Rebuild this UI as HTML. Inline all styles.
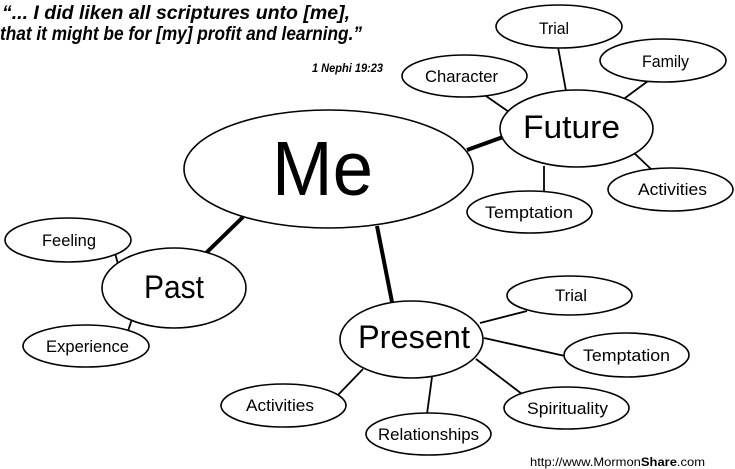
<!DOCTYPE html>
<html><head><meta charset="utf-8"><style>
html,body{margin:0;padding:0;background:#fff;}
svg{display:block;}
text{font-family:"Liberation Sans",sans-serif;fill:#000;}
</style></head><body>
<svg width="735" height="469" viewBox="0 0 735 469" xmlns="http://www.w3.org/2000/svg">
<rect width="735" height="469" fill="#fff"/>
<!-- quote -->
<text x="2" y="19" font-size="19" font-weight="bold" font-style="italic" textLength="348" lengthAdjust="spacingAndGlyphs">“... I did liken all scriptures unto [me],</text>
<text x="0" y="40" font-size="19" font-weight="bold" font-style="italic" textLength="362" lengthAdjust="spacingAndGlyphs">that it might be for [my] profit and learning.”</text>
<text x="312" y="72" font-size="12" font-weight="bold" font-style="italic" textLength="71" lengthAdjust="spacingAndGlyphs">1 Nephi 19:23</text>

<g stroke="#000" fill="none">
<!-- thick connectors -->
<line x1="467" y1="150" x2="503" y2="137" stroke-width="4"/>
<line x1="243" y1="217" x2="205" y2="254" stroke-width="4"/>
<line x1="377" y1="226" x2="392" y2="302" stroke-width="4"/>
<!-- thin connectors -->
<g stroke-width="1.8">
<line x1="558" y1="47" x2="566" y2="91"/>
<line x1="648" y1="81" x2="621" y2="101"/>
<line x1="486" y1="96" x2="509" y2="112"/>
<line x1="633" y1="152" x2="652" y2="170"/>
<line x1="544" y1="166" x2="544" y2="192"/>
<line x1="115" y1="253" x2="118" y2="264"/>
<line x1="132" y1="319" x2="128" y2="331"/>
<line x1="480" y1="323" x2="527" y2="311"/>
<line x1="484" y1="338" x2="565" y2="356"/>
<line x1="476" y1="359" x2="522" y2="394"/>
<line x1="432" y1="377" x2="427" y2="414"/>
<line x1="363" y1="369" x2="338" y2="395"/>
</g>
<!-- ellipses -->
<g stroke-width="1.6" fill="#fff">
<ellipse cx="328.5" cy="169" rx="144.5" ry="59"/>
<ellipse cx="576.5" cy="128.5" rx="76.5" ry="38.5"/>
<ellipse cx="174" cy="288" rx="72" ry="40"/>
<ellipse cx="411.5" cy="339.5" rx="71.5" ry="38.5"/>
<ellipse cx="559" cy="26.5" rx="63" ry="21.5"/>
<ellipse cx="663" cy="60.5" rx="63" ry="21.5"/>
<ellipse cx="464.5" cy="76" rx="62.5" ry="21"/>
<ellipse cx="670.5" cy="189.5" rx="62.5" ry="21.5"/>
<ellipse cx="529.5" cy="212" rx="62.5" ry="21"/>
<ellipse cx="68" cy="240" rx="63" ry="22"/>
<ellipse cx="86" cy="346" rx="63" ry="21"/>
<ellipse cx="569.5" cy="295.5" rx="62.5" ry="19.5"/>
<ellipse cx="626.5" cy="355" rx="62.5" ry="22"/>
<ellipse cx="566.5" cy="408" rx="62.5" ry="21"/>
<ellipse cx="428.5" cy="434" rx="62.5" ry="21"/>
<ellipse cx="283.5" cy="405.5" rx="62.5" ry="21.5"/>
</g>
</g>

<!-- big labels -->
<text x="272" y="195" font-size="77" textLength="101" lengthAdjust="spacingAndGlyphs">Me</text>
<text x="523" y="138" font-size="32" textLength="97" lengthAdjust="spacingAndGlyphs">Future</text>
<text x="144" y="298" font-size="32" textLength="60" lengthAdjust="spacingAndGlyphs">Past</text>
<text x="358" y="348" font-size="32" textLength="112" lengthAdjust="spacingAndGlyphs">Present</text>

<!-- small labels -->
<g font-size="17">
<text x="539" y="34" textLength="30" lengthAdjust="spacingAndGlyphs">Trial</text>
<text x="642" y="67" textLength="47" lengthAdjust="spacingAndGlyphs">Family</text>
<text x="425" y="82" textLength="73" lengthAdjust="spacingAndGlyphs">Character</text>
<text x="638" y="195" textLength="69" lengthAdjust="spacingAndGlyphs">Activities</text>
<text x="485" y="218" textLength="88" lengthAdjust="spacingAndGlyphs">Temptation</text>
<text x="42" y="246" textLength="54" lengthAdjust="spacingAndGlyphs">Feeling</text>
<text x="46" y="352" textLength="83" lengthAdjust="spacingAndGlyphs">Experience</text>
<text x="555" y="301" textLength="32" lengthAdjust="spacingAndGlyphs">Trial</text>
<text x="583" y="361" textLength="87" lengthAdjust="spacingAndGlyphs">Temptation</text>
<text x="527" y="414" textLength="81" lengthAdjust="spacingAndGlyphs">Spirituality</text>
<text x="378" y="440" textLength="101" lengthAdjust="spacingAndGlyphs">Relationships</text>
<text x="246" y="411" textLength="68" lengthAdjust="spacingAndGlyphs">Activities</text>
</g>

<text x="530" y="466" font-size="12" textLength="175" lengthAdjust="spacingAndGlyphs">http://www.Mormon<tspan font-weight="bold">Share</tspan>.com</text>
</svg>
</body></html>
